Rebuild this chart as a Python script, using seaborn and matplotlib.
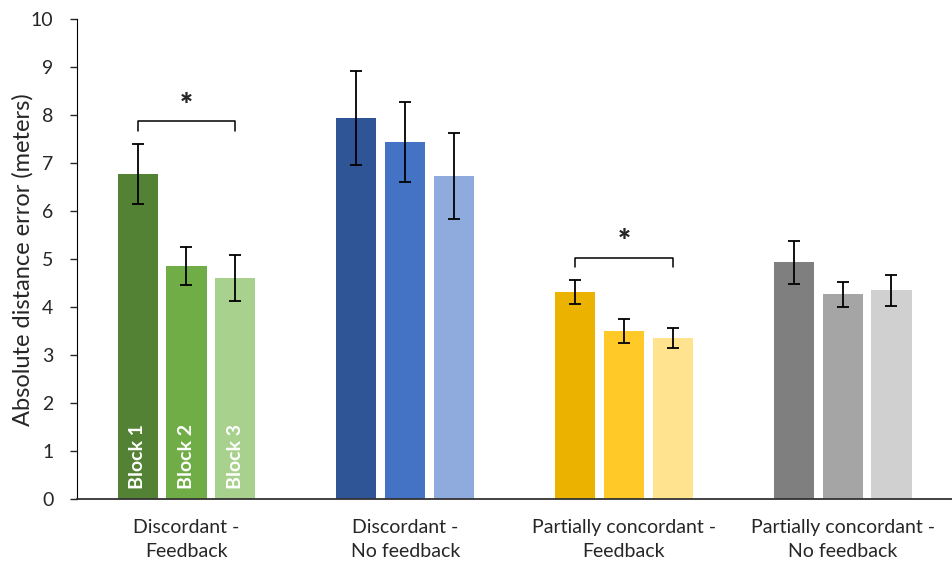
import pandas as pd
import numpy as np
import matplotlib.pyplot as plt
import seaborn as sns

conditions = ['Discordant -\nFeedback', 'Discordant -\nNo feedback',
              'Partially concordant -\nFeedback', 'Partially concordant -\nNo feedback']
blocks = ['Block 1', 'Block 2', 'Block 3']

block1_mean = [6.78, 7.94, 4.31, 4.94]
block2_mean = [4.86, 7.44, 3.51, 4.27]
block3_mean = [4.61, 6.73, 3.36, 4.35]
block1_err = [0.63, 0.98, 0.25, 0.45]
block2_err = [0.40, 0.83, 0.25, 0.26]
block3_err = [0.47, 0.90, 0.20, 0.32]

# significant block1 vs block3 comparisons, per condition
signif = [True, False, True, False]

palettes = [
    ['#548235', '#70AD47', '#A9D18E'],
    ['#2F5597', '#4472C4', '#8FAADC'],
    ['#EBB300', '#FFCA28', '#FFE38F'],
    ['#7F7F7F', '#A5A5A5', '#D0D0D0'],
]

rows = []
for b, means, errs in zip(blocks, [block1_mean, block2_mean, block3_mean],
                          [block1_err, block2_err, block3_err]):
    for c, m, e in zip(conditions, means, errs):
        rows.append({'condition': c, 'block': b, 'error': m, 'sem': e})
df = pd.DataFrame(rows)

sns.set_style('white')
plt.rcParams['font.family'] = ['Lato', 'DejaVu Sans']

fig = plt.figure(figsize=(9.52, 5.66), dpi=100)
ax = fig.add_axes([0.081, 0.118, 0.919, 0.848])

sns.barplot(data=df, x='condition', y='error', hue='block', order=conditions,
            hue_order=blocks, errorbar=None, width=0.67, gap=0.18,
            legend=False, ax=ax)

bar_groups = list(ax.containers)
for j, cont in enumerate(bar_groups):
    sub = df[df['block'] == blocks[j]].set_index('condition').loc[conditions]
    xs, ys = [], []
    for i, bar in enumerate(cont):
        bar.set_facecolor(palettes[i][j])
        bar.set_edgecolor('none')
        xs.append(bar.get_x() + bar.get_width() / 2)
        ys.append(bar.get_height())
    ax.errorbar(xs, ys, yerr=sub['sem'].values, fmt='none', ecolor='black',
                elinewidth=1.3, capsize=4, capthick=1.3, zorder=5)
    # block names inside first group's bars
    ax.text(xs[0], 0.22, blocks[j], rotation=90, color='white', fontsize=14,
            fontweight='bold', ha='center', va='bottom', zorder=6)

# significance brackets
for i, sig in enumerate(signif):
    if not sig:
        continue
    b1 = bar_groups[0][i]
    b3 = bar_groups[2][i]
    x1 = b1.get_x() + b1.get_width() / 2
    x3 = b3.get_x() + b3.get_width() / 2
    top = max(block1_mean[i] + block1_err[i], block3_mean[i] + block3_err[i])
    ax.plot([x1, x1, x3, x3], [top + 0.27, top + 0.47, top + 0.47, top + 0.27],
            color='black', lw=1.1)
    ax.text((x1 + x3) / 2, top + 0.5, '*', ha='center', va='bottom',
            fontsize=22, fontweight='heavy')

ax.set_ylim(0, 10)
ax.set_xlim(-0.5, 3.5)
ax.set_yticks(range(0, 11))
ax.tick_params(axis='y', direction='out', length=5, width=1, labelsize=14, left=True, pad=12)
ax.tick_params(axis='x', length=0, labelsize=14, pad=14)
for lbl in ax.get_xticklabels():
    lbl.set_linespacing(1.55)
ax.set_xlabel('')
ax.set_ylabel('Absolute distance error (meters)', fontsize=17, labelpad=-2)
sns.despine(ax=ax)
ax.spines['left'].set_color('black')
ax.spines['bottom'].set_color('#333333')
ax.spines['bottom'].set_linewidth(1.3)

plt.savefig('out.png', dpi=100)
